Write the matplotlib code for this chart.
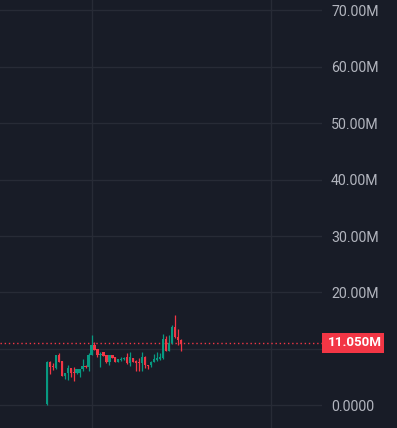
import matplotlib
matplotlib.use("Agg")
import matplotlib.pyplot as plt
import matplotlib.transforms as mtransforms
from matplotlib.patches import Rectangle
import numpy as np

# OHLC values in millions
opens = [0.2, 7.68, 7.0, 6.67, 8.93, 7.86, 5.24, 5.65, 6.55, 5.89, 5.71, 5.77, 6.37, 6.96, 6.85,
         8.93, 10.65, 10.0, 9.0, 9.46, 8.93, 7.62, 8.93, 8.51, 7.74, 8.04, 8.15, 8.51, 7.44, 8.33,
         7.92, 7.62, 7.44, 8.63, 7.14, 7.08, 7.74, 8.04, 8.27, 8.33, 11.79, 9.70, 11.01, 13.87, 12.08,
         11.61]
highs = [7.86, 7.86, 7.44, 9.0, 9.23, 7.9, 5.71, 7.14, 6.6, 6.85, 6.37, 6.4, 8.15, 7.14, 9.23,
         12.5, 11.19, 10.0, 9.4, 9.5, 9.0, 8.93, 8.95, 8.6, 8.2, 8.63, 8.5, 9.23, 9.40, 8.4,
         8.0, 8.33, 9.40, 8.65, 7.2, 7.8, 9.17, 9.40, 9.23, 12.68, 12.2, 12.44, 14.17, 16.07, 13.51,
         11.73]
lows = [0.0, 5.48, 6.25, 6.43, 7.74, 5.24, 4.58, 4.46, 4.94, 4.29, 5.48, 4.94, 6.07, 6.7, 6.13,
        8.9, 9.8, 8.63, 6.85, 8.8, 7.5, 7.08, 8.3, 7.7, 7.6, 7.86, 8.0, 7.4, 7.02, 7.74,
        6.13, 6.07, 6.0, 6.55, 6.43, 6.85, 7.6, 7.9, 8.1, 8.2, 9.6, 9.6, 10.9, 12.0, 10.65,
        9.70]
closes = [7.68, 6.85, 6.85, 8.93, 7.74, 5.24, 5.71, 6.55, 5.77, 5.65, 6.37, 6.43, 6.96, 6.73, 8.93,
          10.65, 9.82, 8.99, 9.17, 8.81, 7.62, 8.93, 8.45, 7.74, 8.15, 8.27, 8.39, 7.44, 8.63, 7.74,
          7.44, 7.44, 8.63, 7.08, 7.02, 7.74, 8.15, 8.33, 8.51, 11.79, 9.70, 11.01, 13.87, 12.08, 11.61,
          11.05]

tick_values = [0, 10, 20, 30, 40, 50, 60, 70]
tick_labels = ["0.0000", "", "20.00M", "30.00M", "40.00M", "50.00M", "60.00M", "70.00M"]
vgrid_index = [15, 75]
last_label = "11.050M"

BG = "#181c27"
GRID = "#272b36"
UP = "#089981"
DOWN = "#f23645"
TXT = "#b2b5be"

W, H = 397, 428
fig = plt.figure(figsize=(W / 100, H / 100), dpi=100, facecolor=BG)
plot_w = 322
ax = fig.add_axes([0, 0, plot_w / W, 1], facecolor=BG)

x = np.arange(len(opens))
o = np.array(opens); h = np.array(highs); l = np.array(lows); c = np.array(closes)
up = c >= o
colors = np.where(up, UP, DOWN)

ax.vlines(x, l, h, colors=colors, linewidth=0.9, zorder=3)
bottoms = np.minimum(o, c)
heights = np.maximum(np.abs(c - o), 0.12)
ax.bar(x, heights, bottom=bottoms, width=0.78, color=colors, linewidth=0, zorder=4)

ax.set_xlim(-15.76, 92.47)
ax.set_ylim(-4.02, 71.82)

for v in tick_values:
    ax.axhline(v, color=GRID, linewidth=1, zorder=1)
for xi in vgrid_index:
    ax.axvline(xi + 0.2, color=GRID, linewidth=1, zorder=1)

ax.set_xticks([])
ax.yaxis.tick_right()
ax.set_yticks(tick_values)
ax.set_yticklabels(tick_labels)
ax.tick_params(axis="y", length=0, pad=6.5, labelcolor=TXT, labelsize=10.2)
for lab in ax.get_yticklabels():
    lab.set_fontfamily("Roboto")
for s in ax.spines.values():
    s.set_visible(False)

last = closes[-1]
ax.axhline(last, color=DOWN, linewidth=1, linestyle=(0, (1, 2)), zorder=2)

trans = mtransforms.blended_transform_factory(ax.transAxes, ax.transData)
half_h = 10 / 5.643
rect = Rectangle((1.0, last - half_h), 62 / plot_w, 2 * half_h, transform=trans,
                 facecolor=DOWN, edgecolor="none", clip_on=False, zorder=5)
ax.add_patch(rect)
ax.text(1.0 + 60 / plot_w, last, last_label, transform=trans, ha="right", va="center",
        color="white", fontsize=9.6, fontweight="bold", fontfamily="Roboto", zorder=6, clip_on=False)

fig.savefig("out.png", dpi=100, facecolor=BG)
